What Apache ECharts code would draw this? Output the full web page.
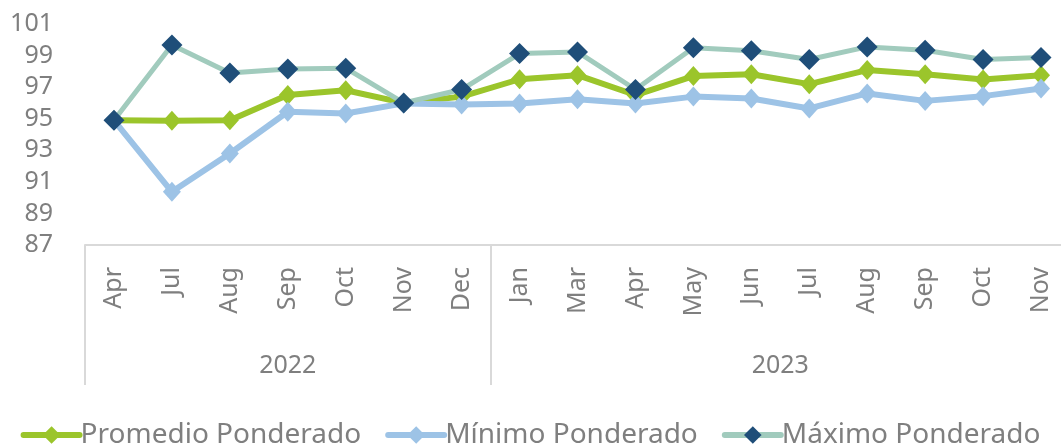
<!DOCTYPE html>
<html>
<head>
<meta charset="utf-8">
<script src="https://cdn.jsdelivr.net/npm/echarts@6/dist/echarts.min.js"></script>
<style>html,body{margin:0;padding:0;background:#fff}#c{width:1061px;height:446px}</style>
</head>
<body>
<div id="c"></div>
<script>
const months = ['Apr','Jul','Aug','Sep','Oct','Nov','Dec','Jan','Mar','Apr','May','Jun','Jul','Aug','Sep','Oct','Nov'];
const years = ['2022','2023'];
const yearCounts = [7, 10];
const promedio = [94.9, 94.87, 94.9, 96.5, 96.8, 96.0, 96.4, 97.5, 97.76, 96.5, 97.7, 97.82, 97.19, 98.08, 97.82, 97.49, 97.76];
const minimo   = [94.9, 90.37, 92.8, 95.44, 95.33, 95.97, 95.9, 95.97, 96.24, 95.97, 96.4, 96.28, 95.65, 96.6, 96.13, 96.43, 96.92];
const maximo   = [94.9, 99.67, 97.9, 98.15, 98.2, 96.0, 96.85, 99.13, 99.23, 96.85, 99.5, 99.3, 98.75, 99.55, 99.34, 98.75, 98.88];
const yTicks = {min: 87, max: 101, interval: 2};

const boundaries = [0];
yearCounts.forEach(c => boundaries.push(boundaries[boundaries.length-1] + c));
const yearCenters = yearCounts.map((c, i) => boundaries[i] + c / 2);
const total = boundaries[boundaries.length-1];

const txt = '#7f7f7f';
const font = 'Noto Sans';
const chart = echarts.init(document.getElementById('c'), null, {renderer: 'canvas'});
chart.setOption({
  animation: false,
  textStyle: {fontFamily: font},
  grid: {left: 85, width: 985, top: 24, bottom: 201, containLabel: false, outerBoundsMode: 'none'},
  xAxis: [{
    type: 'category',
    data: months,
    boundaryGap: true,
    axisLine: {show: true, lineStyle: {color: '#d9d9d9', width: 2}},
    axisTick: {show: true, length: 140, lineStyle: {color: '#d9d9d9', width: 2},
      interval: (i) => boundaries.indexOf(i) >= 0},
    axisLabel: {rotate: 90, margin: 22, color: txt, fontSize: 25, fontFamily: font, interval: 0}
  }, {
    type: 'value',
    min: 0, max: total,
    position: 'bottom',
    axisLine: {show: false}, axisTick: {show: false}, splitLine: {show: false},
    axisLabel: {customValues: yearCenters, margin: 108, color: txt, fontSize: 25, fontFamily: font,
      formatter: (v) => years[yearCenters.indexOf(v)]}
  }],
  yAxis: {
    type: 'value', min: yTicks.min, max: yTicks.max, interval: yTicks.interval,
    axisLine: {show: false}, axisTick: {show: false}, splitLine: {show: false},
    axisLabel: {color: txt, fontSize: 25, fontFamily: font, margin: 32}
  },
  legend: {
    left: 'center', top: 416, itemWidth: 56, itemHeight: 22, itemGap: 24,
    lineStyle: {width: 6, cap: 'round'},
    textStyle: {color: txt, fontSize: 28, fontFamily: font, padding: [0,0,0,-4]},
    data: ['Promedio Ponderado', 'Mínimo Ponderado', 'Máximo Ponderado']
  },
  series: [{
    name: 'Promedio Ponderado', type: 'line', data: promedio,
    symbol: 'diamond', symbolSize: [18, 20],
    lineStyle: {color: '#9bc52b', width: 6}, itemStyle: {color: '#9bc52b'}
  }, {
    name: 'Mínimo Ponderado', type: 'line', data: minimo,
    symbol: 'diamond', symbolSize: [18, 20],
    lineStyle: {color: '#9dc3e6', width: 6}, itemStyle: {color: '#9dc3e6'}
  }, {
    name: 'Máximo Ponderado', type: 'line', data: maximo,
    symbol: 'diamond', symbolSize: [21, 21],
    lineStyle: {color: '#a1cbbd', width: 5}, itemStyle: {color: '#1f4e79'}
  }]
});
</script>
</body>
</html>
